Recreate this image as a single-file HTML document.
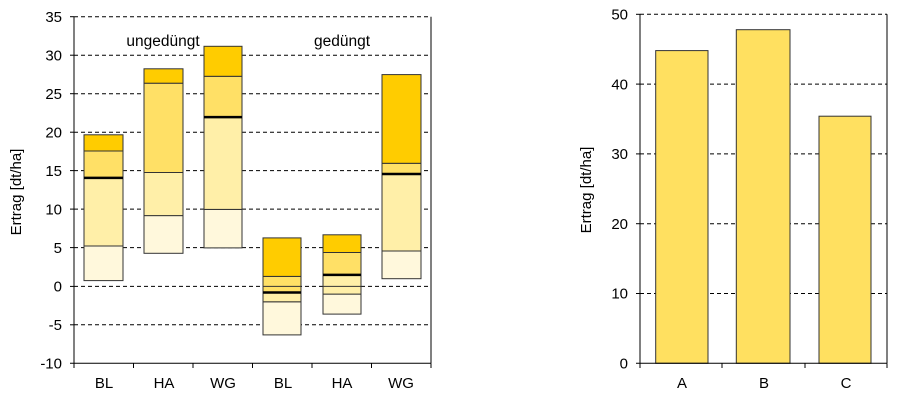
<!DOCTYPE html>
<html><head><meta charset="utf-8"><style>body{margin:0;background:#fff}svg{display:block}text{font-family:"Liberation Sans",Arial,sans-serif;fill:#000}</style></head><body>
<svg width="900" height="400" viewBox="0 0 900 400" xmlns="http://www.w3.org/2000/svg">
<g stroke="#000" stroke-width="1" stroke-dasharray="4,3">
<line x1="74" x2="431" y1="16.7" y2="16.7"/>
<line x1="74" x2="431" y1="55.2" y2="55.2"/>
<line x1="74" x2="431" y1="93.7" y2="93.7"/>
<line x1="74" x2="431" y1="132.2" y2="132.2"/>
<line x1="74" x2="431" y1="170.6" y2="170.6"/>
<line x1="74" x2="431" y1="209.1" y2="209.1"/>
<line x1="74" x2="431" y1="247.6" y2="247.6"/>
<line x1="74" x2="431" y1="286.4" y2="286.4"/>
<line x1="74" x2="431" y1="324.8" y2="324.8"/>
</g>
<g stroke="#333" stroke-width="1">
<rect x="84" y="246" width="39" height="34.6" fill="#fff8dc"/>
<rect x="84" y="177.9" width="39" height="68.1" fill="#ffefa8"/>
<rect x="84" y="151" width="39" height="26.9" fill="#ffe066"/>
<rect x="84" y="134.8" width="39" height="16.2" fill="#ffcc00"/>
<rect x="144" y="215.6" width="39" height="37.7" fill="#fff8dc"/>
<rect x="144" y="172.5" width="39" height="43.1" fill="#ffefa8"/>
<rect x="144" y="83.2" width="39" height="89.3" fill="#ffe066"/>
<rect x="144" y="68.8" width="39" height="14.4" fill="#ffcc00"/>
<rect x="204" y="209.4" width="38" height="38.5" fill="#fff8dc"/>
<rect x="204" y="117.1" width="38" height="92.3" fill="#ffefa8"/>
<rect x="204" y="76.3" width="38" height="40.8" fill="#ffe066"/>
<rect x="204" y="46.3" width="38" height="30" fill="#ffcc00"/>
<rect x="263" y="301.8" width="38" height="33.1" fill="#fff8dc"/>
<rect x="263" y="292.5" width="38" height="9.3" fill="#ffefa8"/>
<rect x="263" y="276.4" width="38" height="16.1" fill="#ffe066"/>
<rect x="263" y="237.9" width="38" height="38.5" fill="#ffcc00"/>
<rect x="323" y="294.1" width="38" height="20" fill="#fff8dc"/>
<rect x="323" y="274.9" width="38" height="19.2" fill="#ffefa8"/>
<rect x="323" y="252.5" width="38" height="22.4" fill="#ffe066"/>
<rect x="323" y="234.8" width="38" height="17.7" fill="#ffcc00"/>
<rect x="382" y="251" width="39" height="27.7" fill="#fff8dc"/>
<rect x="382" y="174" width="39" height="77" fill="#ffefa8"/>
<rect x="382" y="163.3" width="39" height="10.7" fill="#ffe066"/>
<rect x="382" y="74.6" width="39" height="88.7" fill="#ffcc00"/>
</g>
<g stroke="#000" stroke-width="2.5">
<line x1="84" x2="123" y1="177.9" y2="177.9"/>
<line x1="204" x2="242" y1="117.1" y2="117.1"/>
<line x1="263" x2="301" y1="292.5" y2="292.5"/>
<line x1="323" x2="361" y1="274.9" y2="274.9"/>
<line x1="382" x2="421" y1="174" y2="174"/>
</g>
<g stroke="#333" stroke-width="1"><line x1="263" x2="301" y1="286.4" y2="286.4"/><line x1="323" x2="361" y1="286.4" y2="286.4"/></g>
<g stroke="#000" stroke-width="1" fill="none">
<line x1="74" x2="74" y1="16.7" y2="363.3"/>
<line x1="431" x2="431" y1="16.7" y2="363.3"/>
<line x1="70" x2="431" y1="363.3" y2="363.3"/>
<line x1="70" x2="74" y1="16.7" y2="16.7"/><line x1="70" x2="74" y1="55.2" y2="55.2"/><line x1="70" x2="74" y1="93.7" y2="93.7"/><line x1="70" x2="74" y1="132.2" y2="132.2"/><line x1="70" x2="74" y1="170.6" y2="170.6"/><line x1="70" x2="74" y1="209.1" y2="209.1"/><line x1="70" x2="74" y1="247.6" y2="247.6"/><line x1="70" x2="74" y1="286.4" y2="286.4"/><line x1="70" x2="74" y1="324.8" y2="324.8"/>
<line x1="133.5" x2="133.5" y1="363.3" y2="368"/><line x1="193" x2="193" y1="363.3" y2="368"/><line x1="252.5" x2="252.5" y1="363.3" y2="368"/><line x1="312" x2="312" y1="363.3" y2="368"/><line x1="371.5" x2="371.5" y1="363.3" y2="368"/><line x1="74" x2="74" y1="363.3" y2="368"/><line x1="431" x2="431" y1="363.3" y2="368"/>
</g>
<g font-size="15" text-anchor="end">
<text x="62" y="22">35</text><text x="62" y="60.5">30</text><text x="62" y="99">25</text><text x="62" y="137.5">20</text><text x="62" y="176">15</text><text x="62" y="214.5">10</text><text x="62" y="253">5</text><text x="62" y="291.7">0</text><text x="62" y="330">-5</text><text x="62" y="368.5">-10</text>
</g>
<g font-size="15" text-anchor="middle">
<text x="104" y="388">BL</text><text x="164" y="388">HA</text><text x="223" y="388">WG</text><text x="283" y="388">BL</text><text x="342" y="388">HA</text><text x="401" y="388">WG</text>
</g>
<g font-size="15.5" text-anchor="middle">
<text x="163" y="46">ungedüngt</text><text x="342" y="46">gedüngt</text>
</g>
<text font-size="15" text-anchor="middle" transform="translate(21,192) rotate(-90)">Ertrag [dt/ha]</text>

<g stroke="#000" stroke-width="1" stroke-dasharray="4,3">
<line x1="640" x2="887" y1="14.3" y2="14.3"/>
<line x1="640" x2="887" y1="84.1" y2="84.1"/>
<line x1="640" x2="887" y1="153.9" y2="153.9"/>
<line x1="640" x2="887" y1="223.7" y2="223.7"/>
<line x1="640" x2="887" y1="293.5" y2="293.5"/>
</g>
<g stroke="#333" stroke-width="1" fill="#ffe060">
<rect x="655.7" y="50.6" width="52.3" height="312.7"/>
<rect x="736.3" y="29.7" width="53.7" height="333.6"/>
<rect x="819" y="116.2" width="52" height="247.1"/>
</g>
<g stroke="#000" stroke-width="1">
<line x1="640" x2="640" y1="14.3" y2="363.3"/>
<line x1="887" x2="887" y1="14.3" y2="363.3"/>
<line x1="636" x2="887" y1="363.3" y2="363.3"/>
<line x1="636" x2="640" y1="14.3" y2="14.3"/><line x1="636" x2="640" y1="84.1" y2="84.1"/><line x1="636" x2="640" y1="153.9" y2="153.9"/><line x1="636" x2="640" y1="223.7" y2="223.7"/><line x1="636" x2="640" y1="293.5" y2="293.5"/>
<line x1="640" x2="640" y1="363.3" y2="368"/><line x1="722" x2="722" y1="363.3" y2="368"/><line x1="805" x2="805" y1="363.3" y2="368"/><line x1="887" x2="887" y1="363.3" y2="368"/>
</g>
<g font-size="15" text-anchor="end">
<text x="628" y="19.5">50</text><text x="628" y="89.3">40</text><text x="628" y="159.1">30</text><text x="628" y="228.9">20</text><text x="628" y="298.7">10</text><text x="628" y="368.5">0</text>
</g>
<g font-size="15" text-anchor="middle">
<text x="682" y="388">A</text><text x="764" y="388">B</text><text x="846" y="388">C</text>
</g>
<text font-size="15" text-anchor="middle" transform="translate(591,190) rotate(-90)">Ertrag [dt/ha]</text>
</svg>
</body></html>
